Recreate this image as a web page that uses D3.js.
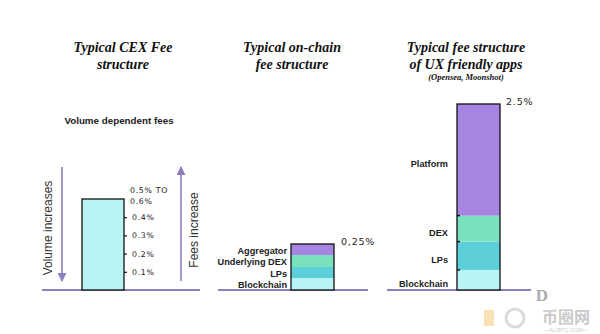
<!DOCTYPE html>
<html>
<head>
<meta charset="utf-8">
<script src="https://cdn.jsdelivr.net/npm/d3@7"></script>
<style>
  html, body { margin: 0; padding: 0; background: #fff; }
  svg { display: block; }
</style>
</head>
<body>
<svg id="chart" width="600" height="334"></svg>
<script>
// Fee levels in percent
const cexFee = 0.5;
const cexTickValues = [0.1, 0.2, 0.3, 0.4];
const cexTickLabels = ["0.1%", "0.2%", "0.3%", "0.4%"];
const cexTopLabel = ["0.5% TO", "0.6%"];

const onchainLayers = ["Blockchain", "LPs", "Underlying DEX", "Aggregator"];
const onchainValues = [0.065, 0.06, 0.065, 0.06];
const onchainTotalLabel = "0,25%";

const appLayers = ["Blockchain", "LPs", "DEX", "Platform"];
const appValues = [0.27, 0.38, 0.35, 1.5];
const appTotalLabel = "2.5%";

const titles = [
  ["Typical CEX Fee", "structure"],
  ["Typical on-chain", "fee structure"],
  ["Typical fee structure", "of UX friendly apps"]
];

const layerColors = {
  "Blockchain": "#b8f4f6",
  "LPs": "#5ccfd9",
  "DEX": "#79e2bd",
  "Underlying DEX": "#79e2bd",
  "Aggregator": "#a684e2",
  "Platform": "#a684e2"
};

const svg = d3.select("#chart");
const baseY = 290;
const barW = 43;
const lineColor = "#8d7fbd";
const sans = "'Liberation Sans', Arial, sans-serif";
const serif = "'Liberation Serif', 'Times New Roman', 'DejaVu Serif', serif";
const hand = "'DejaVu Sans', sans-serif";

// Titles
const titleX = [123, 292, 466];
titles.forEach((lines, i) => {
  const t = svg.append("text")
    .attr("x", titleX[i]).attr("y", 52)
    .attr("text-anchor", "middle")
    .style("font-family", serif)
    .style("font-style", "italic").style("font-weight", "bold")
    .style("font-size", "14px").attr("fill", "#111");
  lines.forEach((l, j) => t.append("tspan").attr("x", titleX[i]).attr("dy", j ? 17 : 0).text(l));
});
svg.append("text").attr("x", titleX[2]).attr("y", 80)
  .attr("text-anchor", "middle")
  .style("font-family", serif)
  .style("font-style", "italic").style("font-weight", "bold")
  .style("font-size", "8.5px").attr("fill", "#111")
  .text("(Opensea, Moonshot)");

// Baselines
[[42, 200], [218, 368], [387, 531]].forEach(([a, b]) => {
  svg.append("line").attr("x1", a).attr("x2", b).attr("y1", baseY).attr("y2", baseY)
    .attr("stroke", lineColor).attr("stroke-width", 2);
});

// ---- Panel 1: CEX ----
const y1 = d3.scaleLinear().domain([0, 0.5]).range([baseY, 199]);
const x1 = 82;
svg.append("text").attr("x", 119).attr("y", 124).attr("text-anchor", "middle")
  .style("font-family", sans).style("font-weight", "bold").style("font-size", "9.8px")
  .attr("fill", "#222").text("Volume dependent fees");

svg.append("rect").attr("x", x1).attr("y", y1(cexFee))
  .attr("width", barW - 1).attr("height", y1(0) - y1(cexFee))
  .attr("fill", layerColors["Blockchain"]).attr("stroke", "#111").attr("stroke-width", 1.3);

const axis1 = svg.append("g").attr("transform", `translate(${x1 + barW - 1},0)`)
  .call(d3.axisRight(y1).tickValues(cexTickValues).tickSize(3)
    .tickFormat((d, i) => cexTickLabels[i]));
axis1.select(".domain").remove();
axis1.selectAll("line").attr("stroke", "#111").attr("stroke-width", 1.2);
axis1.selectAll("text").attr("x", 8)
  .style("font-family", hand).style("font-size", "7.8px").style("letter-spacing", "0.7px")
  .attr("fill", "#222");
cexTopLabel.forEach((l, i) => {
  svg.append("text").attr("x", 130).attr("y", y1(cexFee) - 8 + i * 11)
    .attr("dy", "0.32em")
    .style("font-family", hand).style("font-size", "7.8px").style("letter-spacing", "0.7px")
    .attr("fill", "#222").text(l);
});

// Arrows
const defs = svg.append("defs");
defs.append("marker").attr("id", "arrow").attr("viewBox", "0 0 10 10")
  .attr("refX", 9).attr("refY", 5).attr("markerWidth", 9).attr("markerHeight", 9)
  .attr("orient", "auto-start-reverse").attr("markerUnits", "userSpaceOnUse")
  .append("path").attr("d", "M0,0 L10,5 L0,10 z").attr("fill", lineColor);

svg.append("line").attr("x1", 62).attr("x2", 62).attr("y1", 167).attr("y2", 281)
  .attr("stroke", lineColor).attr("stroke-width", 1.6).attr("marker-end", "url(#arrow)");
svg.append("line").attr("x1", 181).attr("x2", 181).attr("y1", 281).attr("y2", 167)
  .attr("stroke", lineColor).attr("stroke-width", 1.6).attr("marker-end", "url(#arrow)");

svg.append("text").attr("transform", "translate(52,228) rotate(-90)")
  .attr("text-anchor", "middle")
  .style("font-family", sans).style("font-size", "12px").attr("fill", "#333")
  .text("Volume increases");
svg.append("text").attr("transform", "translate(198,230) rotate(-90)")
  .attr("text-anchor", "middle")
  .style("font-family", sans).style("font-size", "12px").attr("fill", "#333")
  .text("Fees increase");

// ---- Stacked bars ----
function stackedBar(layers, values, x, scale, labelX, labelPos, totalLabel, totalX, ticks) {
  let acc = 0;
  const segs = layers.map((name, i) => {
    const s = { name, y0: acc, y1: acc + values[i] };
    acc += values[i];
    return s;
  });
  const g = svg.append("g");
  g.selectAll("rect.seg").data(segs).join("rect").attr("class", "seg")
    .attr("x", x).attr("width", barW)
    .attr("y", d => scale(d.y1)).attr("height", d => scale(d.y0) - scale(d.y1))
    .attr("fill", d => layerColors[d.name]);
  g.append("rect").attr("x", x).attr("y", scale(acc))
    .attr("width", barW).attr("height", scale(0) - scale(acc))
    .attr("fill", "none").attr("stroke", "#111").attr("stroke-width", 1.3);
  if (ticks) {
    g.selectAll("line.tk").data(segs.slice(0, -1)).join("line").attr("class", "tk")
      .attr("x1", x).attr("x2", x + 3)
      .attr("y1", d => scale(d.y1)).attr("y2", d => scale(d.y1))
      .attr("stroke", "#111").attr("stroke-width", 1.5);
  }
  g.selectAll("text.lbl").data(segs).join("text").attr("class", "lbl")
    .attr("x", labelX).attr("y", d => labelPos(d))
    .attr("dy", "0.35em").attr("text-anchor", "end")
    .style("font-family", sans).style("font-weight", "bold").style("font-size", "9.2px")
    .attr("fill", "#222").text(d => d.name);
  g.append("text").attr("x", totalX).attr("y", scale(acc) + 1)
    .style("font-family", hand).style("font-size", "9.5px").style("letter-spacing", "0.8px")
    .attr("fill", "#222").text(totalLabel);
}

const y2 = d3.scaleLinear().domain([0, 0.25]).range([baseY, 244]);
stackedBar(onchainLayers, onchainValues, 291, y2, 287,
  d => y2((d.y0 + d.y1) / 2) + 1, onchainTotalLabel, 341, false);

const y3 = d3.scaleLinear().domain([0, 2.5]).range([baseY, 104]);
stackedBar(appLayers, appValues, 457, y3, 448,
  d => y3((d.y0 + d.y1) / 2) + 4, appTotalLabel, 506, true);

// Site mark
const wm = svg.append("g").attr("opacity", 0.35);
wm.append("text").attr("x", 566).attr("y", 323).attr("text-anchor", "middle")
  .style("font-family", "'Noto Sans CJK SC', sans-serif").style("font-size", "16px")
  .style("font-weight", "bold").attr("fill", "#666").text("币圈网");
wm.append("text").attr("x", 566).attr("y", 332).attr("text-anchor", "middle")
  .style("font-family", sans).style("font-size", "5.5px").attr("fill", "#666")
  .text("—ALIBTC.COM—");
wm.append("text").attr("x", 542).attr("y", 301).attr("text-anchor", "middle")
  .style("font-family", serif).style("font-size", "17px").style("font-weight", "bold")
  .attr("fill", "#111").text("D");
wm.append("circle").attr("cx", 515).attr("cy", 318).attr("r", 9)
  .attr("fill", "none").attr("stroke", "#999").attr("stroke-width", 3);
wm.append("rect").attr("x", 484).attr("y", 310).attr("width", 10).attr("height", 16)
  .attr("fill", "#f0b030");
</script>
</body>
</html>
